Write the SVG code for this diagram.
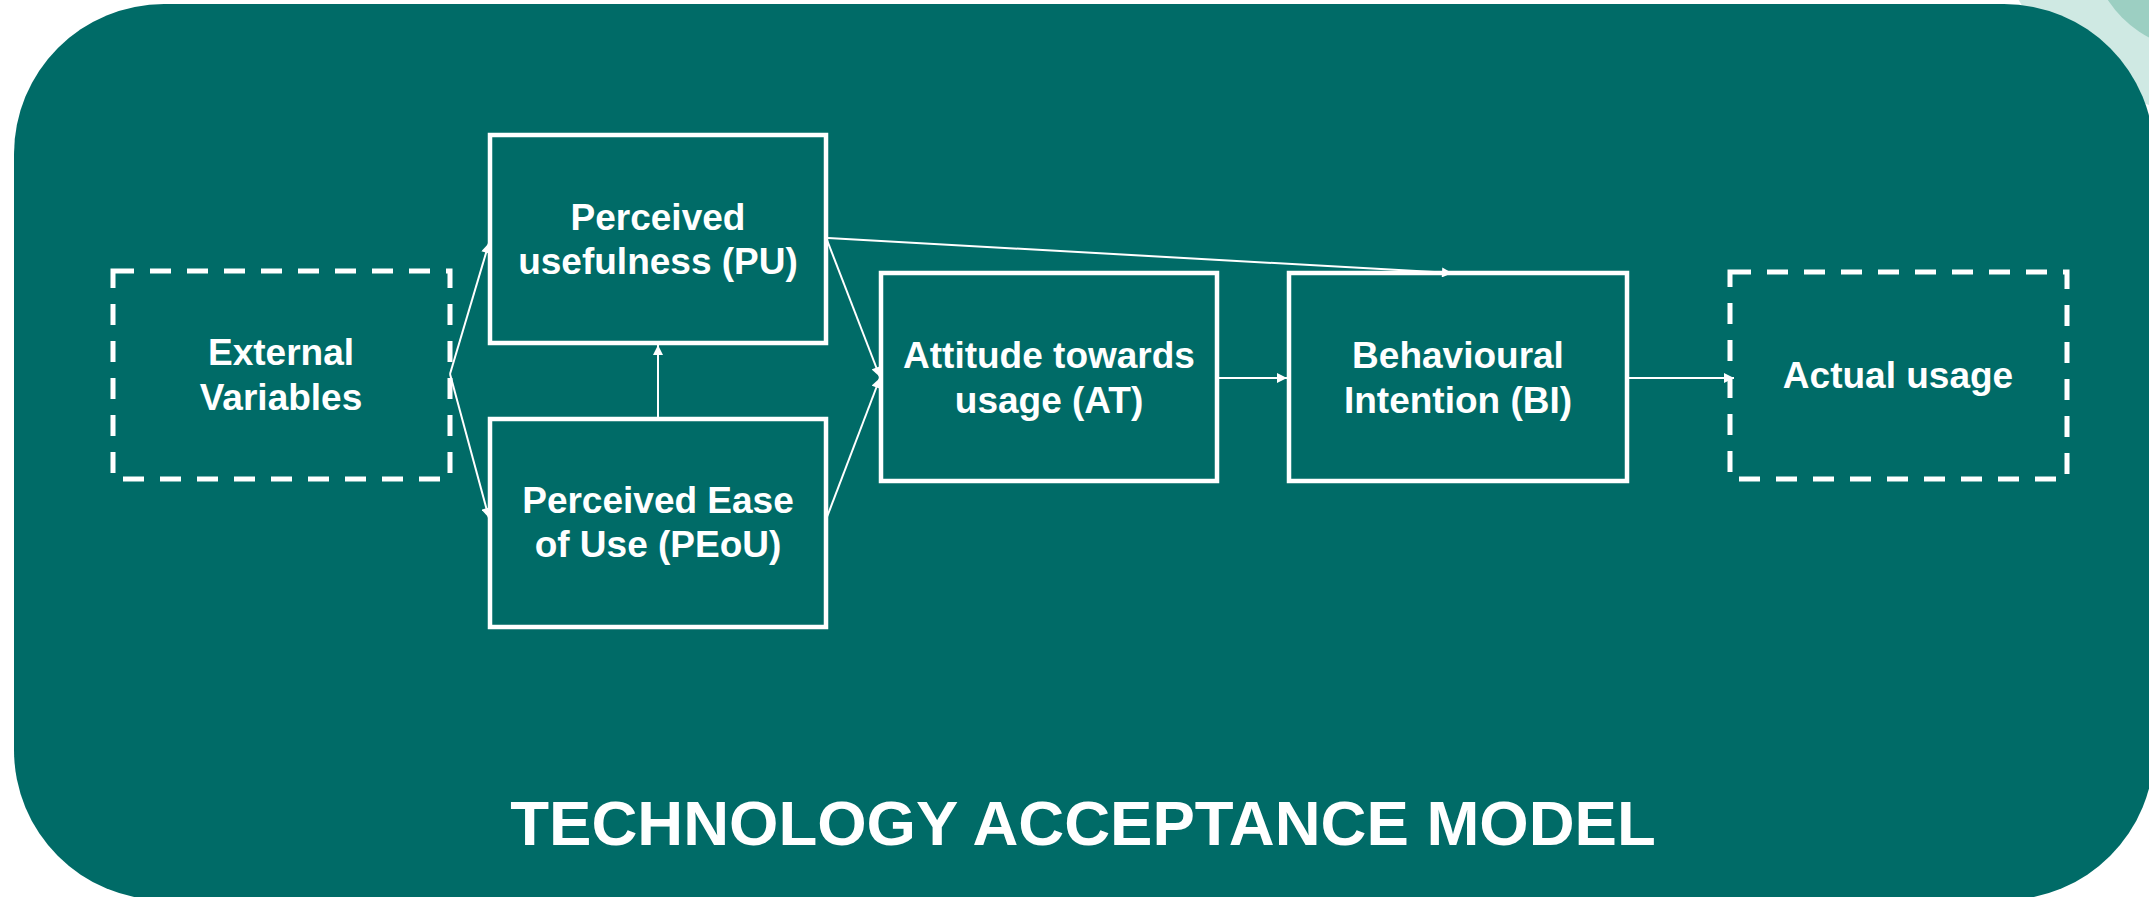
<svg xmlns="http://www.w3.org/2000/svg" width="2149" height="897" viewBox="0 0 2149 897">
<defs>
<style>
.box{fill:none;stroke:#ffffff;stroke-width:4.5}
.dash{fill:none;stroke:#ffffff;stroke-width:5;stroke-dasharray:21 16}
.lbl{font-family:"Liberation Sans",Arial,sans-serif;font-weight:bold;font-size:37px;fill:#ffffff;text-anchor:middle}
.title{font-family:"Liberation Sans",Arial,sans-serif;font-weight:bold;font-size:63.5px;fill:#ffffff;text-anchor:middle}
.con{fill:none;stroke:#ffffff;stroke-width:2}
</style>
<marker id="ah" viewBox="0 0 10 10" refX="10" refY="5" markerWidth="11" markerHeight="10" markerUnits="userSpaceOnUse" orient="auto">
<path d="M0,0 L10,5 L0,10 z" fill="#ffffff"/>
</marker>
</defs>
<rect x="0" y="0" width="2149" height="897" fill="#ffffff"/>
<circle cx="2215" cy="-110" r="225" fill="#cfe9e3"/>
<circle cx="2200" cy="-60" r="110" fill="#9ccfc2"/>
<rect x="14" y="4" width="2140" height="896" rx="150" ry="150" fill="#006b67"/>

<g id="connectors">
<line class="con" x1="450" y1="374" x2="489" y2="243" marker-end="url(#ah)"/>
<line class="con" x1="450" y1="374" x2="489" y2="518" marker-end="url(#ah)"/>
<line class="con" x1="658" y1="419" x2="658" y2="345" marker-end="url(#ah)"/>
<line class="con" x1="827" y1="240" x2="880" y2="377" marker-end="url(#ah)"/>
<line class="con" x1="827" y1="517" x2="880" y2="378" marker-end="url(#ah)"/>
<line class="con" x1="828" y1="238" x2="1452" y2="273" marker-end="url(#ah)"/>
<line class="con" x1="1218" y1="378" x2="1287" y2="378" marker-end="url(#ah)"/>
<line class="con" x1="1628" y1="378" x2="1734" y2="378" marker-end="url(#ah)"/>
</g>

<g id="ext">
<rect class="dash" x="113" y="271" width="337" height="208"/>
<text class="lbl" x="281" y="365">External</text>
<text class="lbl" x="281" y="410">Variables</text>
</g>
<g id="pu">
<rect class="box" x="490" y="135" width="336" height="208"/>
<text class="lbl" x="658" y="230">Perceived</text>
<text class="lbl" x="658" y="274">usefulness (PU)</text>
</g>
<g id="peou">
<rect class="box" x="490" y="419" width="336" height="208"/>
<text class="lbl" x="658" y="513">Perceived Ease</text>
<text class="lbl" x="658" y="557">of Use (PEoU)</text>
</g>
<g id="at">
<rect class="box" x="881" y="273" width="336" height="208"/>
<text class="lbl" x="1049" y="368">Attitude towards</text>
<text class="lbl" x="1049" y="413">usage (AT)</text>
</g>
<g id="bi">
<rect class="box" x="1289" y="273" width="338" height="208"/>
<text class="lbl" x="1458" y="368">Behavioural</text>
<text class="lbl" x="1458" y="413">Intention (BI)</text>
</g>
<g id="au">
<rect class="dash" x="1730" y="272" width="337" height="207"/>
<text class="lbl" x="1898" y="388">Actual usage</text>
</g>
<g id="title">
<text class="title" x="1083" y="845">TECHNOLOGY ACCEPTANCE MODEL</text>
</g>
</svg>
